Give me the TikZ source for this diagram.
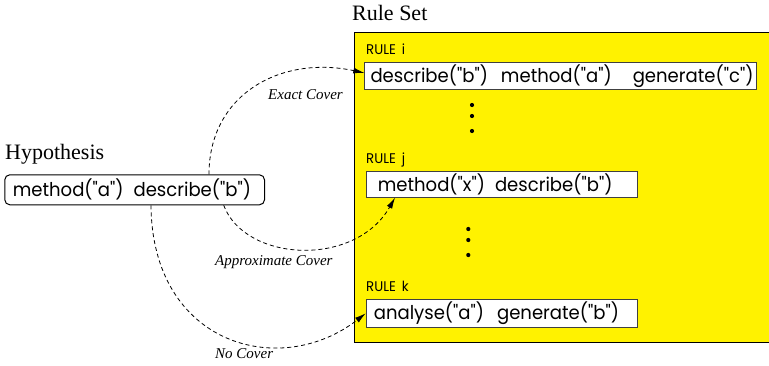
\documentclass[tikz,border=0pt]{standalone}
\usepackage{fontspec}
\setmainfont{Liberation Serif}
\newfontfamily\gothic{Poppins}[FakeStretch=0.95]
\usetikzlibrary{arrows.meta,calc}
\begin{document}
\begin{tikzpicture}[x=1pt,y=-1pt,
  boxfont/.style={font=\gothic\fontsize{19}{23}\selectfont},
  rulebox/.style={draw=black!75, line width=1pt, fill=white, anchor=north west,
    inner ysep=0pt, align=left, boxfont},
  rulelabel/.style={anchor=base west, inner sep=0pt, font=\gothic\fontsize{14}{16}\selectfont},
  title/.style={anchor=base west, inner sep=0pt, font=\fontsize{22}{26}\selectfont},
  coverlabel/.style={anchor=base west, inner sep=0pt, font=\itshape\fontsize{15}{18}\selectfont},
  cover/.style={draw, dash pattern=on 4pt off 3pt, line width=0.8pt, -{Latex[length=11pt,width=6pt]}},
  dotmark/.style={circle, fill=black, inner sep=0pt, minimum size=4.2pt}]
\clip (0,0) rectangle (769,365);
\fill[white] (0,0) rectangle (769,365);

% rule set
\node[title] (rstitle) at (352,20) {Rule Set};
\node[draw, line width=1pt, fill=yellow, anchor=north west, minimum width=440pt,
  minimum height=310pt, inner sep=0pt] (set) at (354.3,31.7) {};

\node[rulelabel] (li) at (366,54) {RULE\hspace{6pt}i};
\node[rulebox, inner xsep=5.7pt, text width=380.3pt, minimum height=27.3pt] (ri) at (364.3,61.7)
  {\mbox{describe("b")\hspace{13pt}method("a")\hspace{21pt}generate("c")}};

\node[dotmark] (d1) at (472,105) {};
\node[dotmark] (d2) at (472,116) {};
\node[dotmark] (d3) at (472,131) {};

\node[rulelabel] (lj) at (366,163) {RULE\hspace{6pt}j};
\node[rulebox, inner xsep=11.6pt, text width=247.8pt, minimum height=26pt] (rj) at (365.7,170.7)
  {\mbox{method("x")\hspace{10pt}describe("b")}};

\node[dotmark] (d4) at (468.3,229) {};
\node[dotmark] (d5) at (468.3,240) {};
\node[dotmark] (d6) at (468.3,255) {};

\node[rulelabel] (lk) at (366,291.5) {RULE\hspace{6pt}k};
\node[rulebox, inner xsep=7.6pt, text width=255.8pt, minimum height=27.7pt] (rk) at (365.7,299)
  {\mbox{analyse("a")\hspace{13pt}generate("b")}};

% hypothesis
\node[title] (htitle) at (5,159) {Hypothesis};
\node[draw, line width=1pt, rounded corners=5pt, anchor=north west, inner ysep=0pt,
  inner xsep=8pt, text width=243.7pt, align=left, minimum height=30pt, boxfont] (hyp) at (4.3,174.3)
  {\mbox{method("a")\hspace{10pt}describe("b")}};

% connectors
\coordinate (e0) at ([xshift=-56pt]hyp.north east);
\coordinate (a0) at ([xshift=-41.3pt]hyp.south east);
\coordinate (n0) at ([xshift=146.7pt]hyp.south west);
\coordinate (e1) at ([yshift=3pt]ri.west);
\coordinate (a1) at ([xshift=29.3pt]rj.south west);

\draw[cover] (e0) .. controls (209,95) and (280,55) .. (e1);
\draw[cover] (a0) .. controls (245,262) and (355,268) .. (a1);
\draw[cover] (n0) .. controls (152,345) and (280,380) .. (rk.west);

\node[coverlabel] (le) at (268,99) {Exact Cover};
\node[coverlabel] (la) at (215,265) {Approximate Cover};
\node[coverlabel] (ln) at (215,358) {No Cover};
\end{tikzpicture}
\end{document}
